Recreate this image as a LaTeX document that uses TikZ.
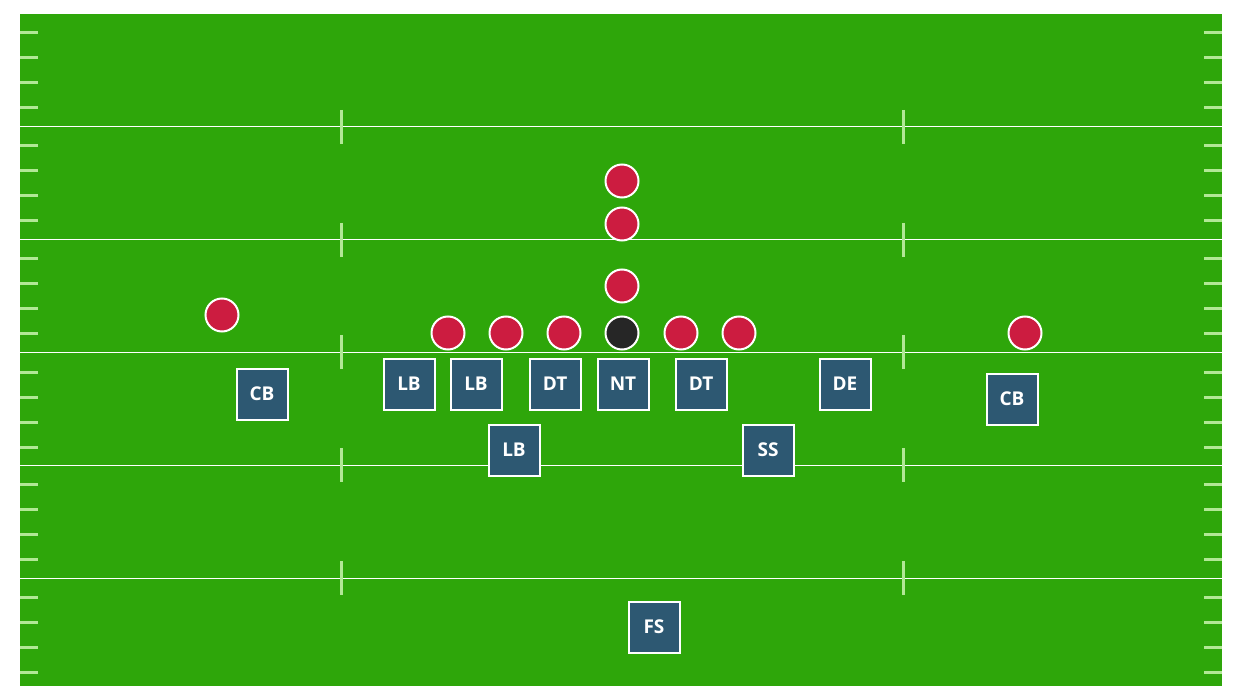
\documentclass[tikz,border=0pt]{standalone}
\usepackage{fontspec}
\setsansfont{Open Sans}
\definecolor{turf}{RGB}{46,166,10}
\definecolor{hashg}{RGB}{178,232,150}
\definecolor{offred}{RGB}{204,28,64}
\definecolor{defblue}{RGB}{45,88,114}
\tikzset{
  offense/.style={circle, fill=offred, draw=white, line width=2pt, minimum size=33pt, inner sep=0pt},
  center/.style={offense, fill=black!85},
  defense/.style={rectangle, fill=defblue, draw=white, line width=2pt, minimum size=51pt, inner sep=0pt,
    text=white, font=\sffamily\bfseries\fontsize{19}{21}\selectfont}
}
\begin{document}
\begin{tikzpicture}[x=1pt,y=-1pt]
                \useasboundingbox[fill=white] (0,0) rectangle (1244,700);
                \fill[turf] (20,14) rectangle (1222,686);
                % yard lines and hash marks
                \foreach \y in {127,240,352,465,578}
                    {\draw[white, line width=1pt] (20,\y) -- (1222,\y);
                     \draw[hashg, line width=3pt] (341,{\y-17}) -- ++(0,34);
                     \draw[hashg, line width=3pt] (903,{\y-17}) -- ++(0,34);}
                \foreach \y in {33,58,83,108,146,171,196,221,259,284,309,334,372,397,422,447,484,509,534,559,597,622,647,672}
                    {\draw[hashg, line width=3pt] (20,\y) -- ++(18,0);
                     \draw[hashg, line width=3pt] (1222,\y) -- ++(-18,0);}
                % offense
                \node[offense] (qb) at (622,181){};
                \node[offense] (fb) at (622,224){};
                \node[offense] (hb) at (622,286){};
                \node[center] (c) at (622,333){};
                \node[offense] (lt) at (448,333){};
                \node[offense] (lg) at (506,333){};
                \node[offense] (lc) at (564,333){};
                \node[offense] (rg) at (681,333){};
                \node[offense] (rt) at (739,333){};
                \node[offense] (wrl) at (222,315){};
                \node[offense] (wrr) at (1025,333){};
                % defense
                \node[defense] (cbl) at (262,394){CB};
                \node[defense] (lb1) at (409,384){LB};
                \node[defense] (lb2) at (476,384){LB};
                \node[defense] (dtl) at (555,384){DT};
                \node[defense] (nt) at (623,384){NT};
                \node[defense] (dtr) at (701,384){DT};
                \node[defense] (de) at (845,384){DE};
                \node[defense] (cbr) at (1012,399){CB};
                \node[defense] (lb3) at (514,450){LB};
                \node[defense] (ss) at (768,450){SS};
                \node[defense] (fs) at (654,627){FS};
\end{tikzpicture}
\end{document}
